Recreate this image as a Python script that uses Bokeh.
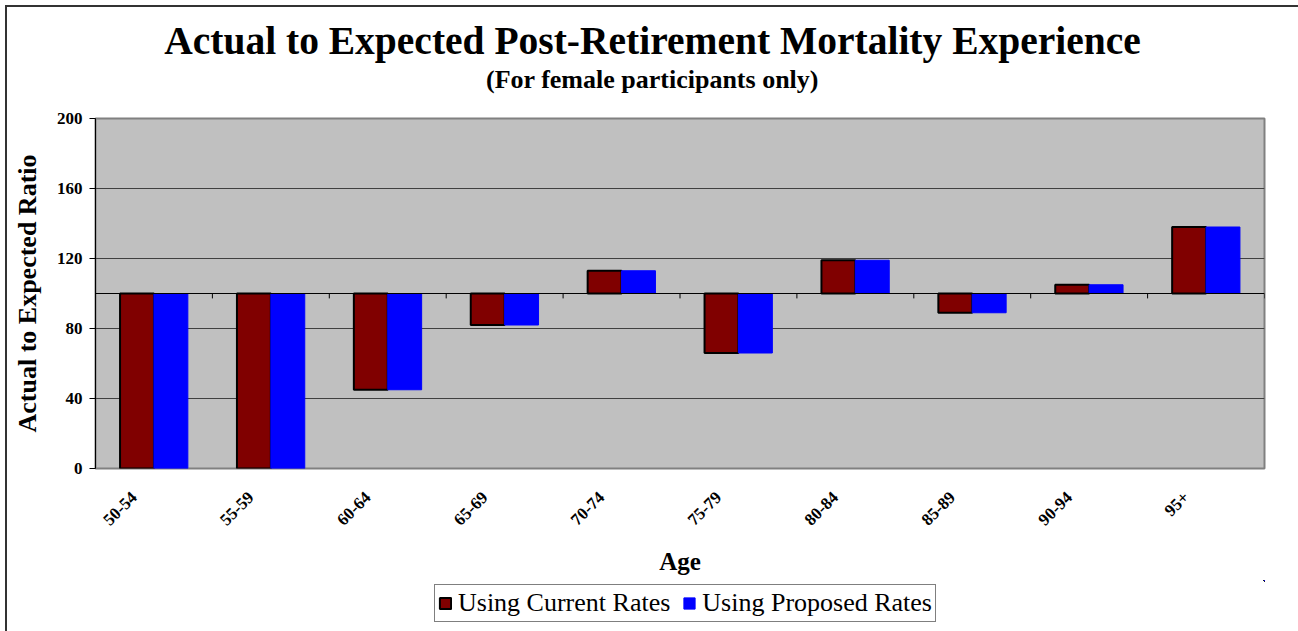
import math
from bokeh.plotting import figure
from bokeh.layouts import column
from bokeh.models import (ColumnDataSource, Range1d, Legend, Label,
                          LegendItem, Span, FixedTicker)
from bokeh.transform import dodge
from bokeh.embed import file_html
from bokeh.resources import INLINE

ages = ["50-54", "55-59", "60-64", "65-69", "70-74", "75-79", "80-84", "85-89", "90-94", "95+"]
current_rates = [0, 0, 45, 82, 113, 66, 119, 89, 105, 138]
proposed_rates = [0, 0, 45, 82, 113, 66, 119, 89, 105, 138]
baseline = 100
y_ticks = [0, 40, 80, 120, 160, 200]
title_text = "Actual to Expected Post-Retirement Mortality Experience"
subtitle_text = "(For female participants only)"
series_names = ["Using Current Rates", "Using Proposed Rates"]

FONT = "Liberation Serif"
RED = "#800000"
BLUE = "#0000FF"

n = len(ages)
centres = [i + 0.5 for i in range(n)]          # category slots on a numeric axis
src = ColumnDataSource(dict(x=centres, age=ages, cur=current_rates, prop=proposed_rates))

# ---------------- title strip ----------------
tf = figure(width=1291, height=101, x_range=Range1d(0, 1169), y_range=Range1d(0, 101),
            output_backend="svg", toolbar_location=None, min_border=0,
            x_axis_location=None, y_axis_location=None,
            background_fill_color="white", border_fill_color="white")
tf.outline_line_color = None
tf.title.visible = False
tf.grid.visible = False
tf.add_layout(Label(x=557, y=68, text=title_text, text_align="center",
                    text_baseline="alphabetic", text_font=FONT, text_font_style="bold",
                    text_font_size="39.5px", text_color="black"))
tf.add_layout(Label(x=557, y=29, text=subtitle_text, text_align="center",
                    text_baseline="alphabetic", text_font=FONT, text_font_style="bold",
                    text_font_size="26px", text_color="black"))

# ---------------- chart ----------------
p = figure(width=1291, height=472, x_range=Range1d(0, n),
           y_range=Range1d(0, 200), output_backend="svg", toolbar_location=None,
           min_border_left=88, min_border_right=34, min_border_top=10, min_border_bottom=112,
           background_fill_color="#C0C0C0", border_fill_color="white")
p.outline_line_color = "#808080"
p.outline_line_width = 2
p.title.visible = False

w = 0.29
r1 = p.vbar(x=dodge("x", -w / 2), top="cur", bottom=baseline, width=w,
            source=src, fill_color=RED, line_color="black", line_width=2)
r2 = p.vbar(x=dodge("x", w / 2), top="prop", bottom=baseline, width=w,
            source=src, fill_color=BLUE, line_color=BLUE, line_width=1)

# category axis crossing at 100
p.add_layout(Span(location=baseline, dimension="width", line_color="black", line_width=1))
bounds = list(range(1, n + 1))
p.segment(x0=bounds, x1=bounds, y0=[baseline] * len(bounds), y1=[baseline - 2.8] * len(bounds),
          line_color="black", line_width=1)

# y axis
p.yaxis.ticker = y_ticks
p.yaxis.major_label_text_font = FONT
p.yaxis.major_label_text_font_style = "bold"
p.yaxis.major_label_text_font_size = "17px"
p.yaxis.major_label_text_color = "black"
p.yaxis.major_label_standoff = 7
p.yaxis.axis_line_color = "black"
p.yaxis.major_tick_line_color = "black"
p.yaxis.major_tick_out = 6
p.yaxis.major_tick_in = 0
p.yaxis.minor_tick_line_color = None
p.yaxis.axis_label = "Actual to Expected Ratio"
p.yaxis.axis_label_text_font = FONT
p.yaxis.axis_label_text_font_style = "bold"
p.yaxis.axis_label_text_font_size = "26px"
p.yaxis.axis_label_text_color = "black"
p.yaxis.axis_label_standoff = 12

p.ygrid.grid_line_color = "#404040"
p.ygrid.grid_line_width = 1
p.xgrid.grid_line_color = None

# category labels (sit slightly left of the category centre, as in the original)
label_shift = 0.17
label_ticks = [c - label_shift for c in centres]
xa = p.xaxis[0]
xa.ticker = FixedTicker(ticks=label_ticks)
xa.major_label_overrides = {t: a for t, a in zip(label_ticks, ages)}
xa.axis_line_color = None
xa.major_tick_line_color = None
xa.minor_tick_line_color = None
xa.major_label_orientation = math.pi / 4
xa.major_label_text_font = FONT
xa.major_label_text_font_style = "bold"
xa.major_label_text_font_size = "17px"
xa.major_label_text_color = "black"
xa.major_label_standoff = 20
xa.axis_label = "Age"
xa.axis_label_text_font = FONT
xa.axis_label_text_font_style = "bold"
xa.axis_label_text_font_size = "25px"
xa.axis_label_text_color = "black"
xa.axis_label_standoff = 15

# ---------------- legend strip ----------------
# the strip's ranges keep its bar renderers far outside the visible area
lf = figure(width=1291, height=51, x_range=Range1d(-50, -40), y_range=Range1d(-400, -390),
            output_backend="svg", toolbar_location=None, min_border=0,
            x_axis_location=None, y_axis_location=None,
            background_fill_color="white", border_fill_color="white")
lf.outline_line_color = None
lf.title.visible = False
lf.grid.visible = False
l1 = lf.vbar(x="x", top="cur", bottom=baseline, width=w,
             source=src, fill_color=RED, line_color="black", line_width=2)
l2 = lf.vbar(x="x", top="prop", bottom=baseline, width=w,
             source=src, fill_color=BLUE, line_color=BLUE, line_width=1)
legend = Legend(items=[LegendItem(label=series_names[0], renderers=[l1]),
                       LegendItem(label=series_names[1], renderers=[l2])],
                orientation="horizontal", location=(339, 9),
                label_text_font=FONT, label_text_font_size="26px", label_text_color="black",
                border_line_color="black", border_line_width=1,
                background_fill_color="white", background_fill_alpha=1,
                glyph_width=14, glyph_height=14, spacing=12, padding=3, margin=0,
                label_standoff=6, label_height=27)
lf.add_layout(legend, "center")

page = column(tf, p, lf, spacing=0,
              styles={"border-left": "2px solid #333333", "border-top": "2px solid #333333",
                      "margin-left": "5px", "margin-top": "5px"})

open("out.html", "w").write(file_html(page, INLINE))
